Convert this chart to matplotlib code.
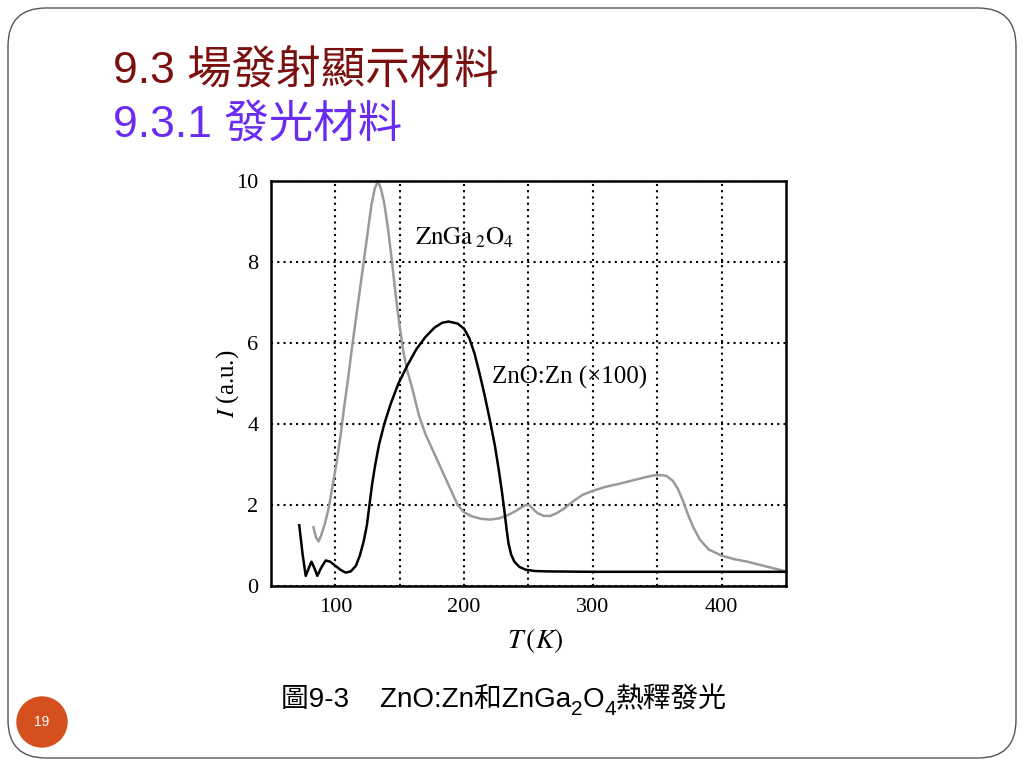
import matplotlib
matplotlib.use("Agg")
import matplotlib.pyplot as plt
from matplotlib.patches import FancyBboxPatch, Circle

plt.rcParams["mathtext.fontset"] = "stix"

# ZnO:Zn (x100) glow curve
zno_T = [72, 74.5, 77, 79.5, 81.5, 84, 86, 89, 92.5, 96, 100, 104, 108, 112, 116, 119,
         122, 124.5, 126.5, 128.5, 131, 134, 138, 143, 149, 156, 163, 170, 177, 183,
         188, 195, 200, 204, 208, 212, 216, 220, 224, 227, 229.5, 231.5, 233, 234.5,
         236.5, 239, 243, 248, 255, 265, 300, 350, 400, 450]
zno_I = [1.5, 0.8, 0.25, 0.45, 0.6, 0.42, 0.25, 0.45, 0.63, 0.6, 0.5, 0.4, 0.33, 0.36,
         0.5, 0.75, 1.1, 1.5, 2.0, 2.5, 3.0, 3.5, 4.0, 4.5, 5.0, 5.45, 5.85, 6.15, 6.38,
         6.5, 6.53, 6.48, 6.35, 6.12, 5.75, 5.25, 4.7, 4.1, 3.45, 2.85, 2.3, 1.8, 1.4,
         1.05, 0.78, 0.6, 0.47, 0.4, 0.37, 0.36, 0.35, 0.35, 0.35, 0.35]

# ZnGa2O4 glow curve
zga_T = [83, 85, 87, 89, 92, 95, 98, 101, 104, 107, 110, 113, 116, 119, 122, 125, 128,
         130.5, 133, 135.5, 138, 141, 144, 147, 150, 153, 156, 160, 165, 170, 175, 180,
         185, 190, 195, 200, 206, 213, 220, 227, 234, 240, 245, 248, 250.5, 253, 257,
         262, 267, 272, 278, 285, 292, 300, 310, 320, 330, 340, 347, 352, 357, 362, 366,
         370, 374, 378, 383, 390, 400, 410, 420, 430, 440, 450]
zga_I = [1.45, 1.2, 1.1, 1.25, 1.55, 1.95, 2.5, 3.05, 3.7, 4.45, 5.15, 5.9, 6.6, 7.3,
         8.0, 8.7, 9.4, 9.8, 10.0, 9.8, 9.45, 8.8, 8.0, 7.15, 6.4, 5.75, 5.3, 4.85, 4.2,
         3.75, 3.4, 3.05, 2.7, 2.35, 2.0, 1.82, 1.72, 1.66, 1.64, 1.67, 1.75, 1.85, 1.95,
         2.0, 2.0, 1.92, 1.8, 1.73, 1.73, 1.8, 1.92, 2.1, 2.25, 2.35, 2.45, 2.52, 2.6,
         2.68, 2.73, 2.74, 2.72, 2.6, 2.4, 2.1, 1.75, 1.45, 1.15, 0.9, 0.75, 0.66, 0.6,
         0.52, 0.44, 0.36]

x_ticks = [100, 200, 300, 400]
x_grid = [150, 250, 350]
y_ticks = [0, 2, 4, 6, 8, 10]

cjk = ["Liberation Sans", "Noto Sans CJK TC", "DejaVu Sans"]

fig = plt.figure(figsize=(10.24, 7.68), dpi=100)

# slide background in pixel coords
bg = fig.add_axes([0, 0, 1, 1], zorder=0)
bg.set_xlim(0, 1024)
bg.set_ylim(768, 0)
bg.axis("off")
bg.add_patch(FancyBboxPatch((8, 8), 1008, 750, boxstyle="round,pad=0,rounding_size=38",
                            fc="white", ec="#555555", lw=1.0))
bg.add_patch(Circle((42, 722), 25, color="#D5501E"))
bg.text(42, 722, "19", color="white", fontsize=10, ha="center", va="center",
        family="Liberation Sans")

bg.text(113, 71, "9.3 場發射顯示材料", color="#7B1010", fontsize=32, va="center", family=cjk)
bg.text(113, 125, "9.3.1 發光材料", color="#6B2CF2", fontsize=32, va="center", family=cjk)

# caption pieces placed one after another
fig.canvas.draw()
renderer = fig.canvas.get_renderer()
pieces = [("圖9-3    ZnO:Zn和ZnGa", 0), ("2", 8), ("O", 0), ("4", 8), ("熱釋發光", 0)]
x = 281
for s, dy in pieces:
    size = 15 if dy else 20
    t = bg.text(x, 707 + dy, s, fontsize=size, va="baseline", family=cjk, color="black")
    bb = t.get_window_extent(renderer)
    x += bb.width

# chart
ax = fig.add_axes([0.2646, 0.237, 0.503, 0.5273], zorder=1)
ax.plot(zga_T, zga_I, color="#9a9a9a", lw=1.8, clip_on=False)
ax.plot(zno_T, zno_I, color="black", lw=1.8, clip_on=False)
ax.set_xlim(50, 450)
ax.set_ylim(0, 10)
ax.set_xticks(x_ticks)
ax.set_xticks(x_grid, minor=True)
ax.set_yticks(y_ticks)
ax.tick_params(which="both", length=0, labelsize=16, pad=9)
for lab in ax.get_xticklabels() + ax.get_yticklabels():
    lab.set_family("Liberation Serif")
ax.grid(True, which="both", color="black", lw=1.5, linestyle=(0, (1, 2)))
for sp in ax.spines.values():
    sp.set_linewidth(1.8)

ax.text(162, 8.6, r"$\mathrm{ZnGa}\,_{2}\mathrm{O}_4$", fontsize=18, va="center")
ax.text(221.5, 5.15, "ZnO:Zn (×100)", fontsize=18, va="center", family="Liberation Serif")

ax.set_ylabel(r"$I$ (a.u.)", fontsize=18, family="Liberation Serif")
ax.yaxis.set_label_coords(-0.058, 0.5)
ax.set_xlabel(r"$T\,(K)$", fontsize=20)
ax.xaxis.set_label_coords(0.513, -0.098)

fig.savefig("out.png", dpi=100)
